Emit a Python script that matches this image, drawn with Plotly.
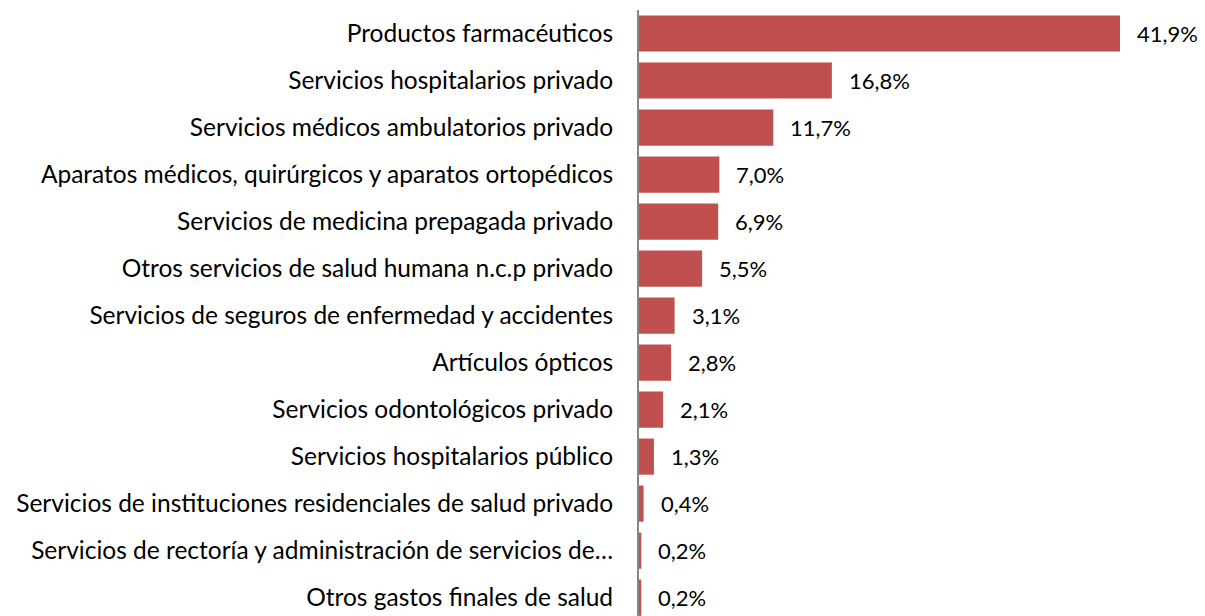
import plotly.graph_objects as go

categories = [
    "Productos farmacéuticos",
    "Servicios hospitalarios privado",
    "Servicios médicos ambulatorios privado",
    "Aparatos médicos, quirúrgicos y aparatos ortopédicos",
    "Servicios de medicina prepagada privado",
    "Otros servicios de salud humana n.c.p privado",
    "Servicios de seguros de enfermedad y accidentes",
    "Artículos ópticos",
    "Servicios odontológicos privado",
    "Servicios hospitalarios público",
    "Servicios de instituciones residenciales de salud privado",
    "Servicios de rectoría y administración de servicios de…",
    "Otros gastos finales de salud",
]
values = [41.9, 16.8, 11.7, 7.0, 6.9, 5.5, 3.1, 2.8, 2.1, 1.3, 0.4, 0.2, 0.2]
labels = [f"{v:.1f}%".replace(".", ",") for v in values]

idx = list(range(len(categories)))
FONT = "Lato"

fig = go.Figure()
fig.add_trace(go.Bar(
    y=idx, x=values, orientation="h",
    marker=dict(color="#C0504D", line=dict(width=0)),
    width=0.77,
))
for i, v, t in zip(idx, values, labels):
    fig.add_annotation(x=v, y=i, text=t, showarrow=False, xanchor="left",
                       xshift=15, font=dict(size=22, color="#000000", family=FONT))

fig.update_layout(
    width=1205, height=616,
    margin=dict(l=631, r=0, t=2, b=0, autoexpand=False),
    plot_bgcolor="white", paper_bgcolor="white",
    showlegend=False,
    font=dict(family=FONT, size=22, color="#000000"),
    xaxis=dict(range=[0, 50.0], showgrid=False, zeroline=False, showticklabels=False,
               showline=False, ticks=""),
    yaxis=dict(range=[12.56, -0.5], tickmode="array", tickvals=idx, ticktext=categories,
               showgrid=False, zeroline=False, showline=True, linecolor="#868686",
               linewidth=2, ticks="", ticklabelstandoff=19,
               tickfont=dict(size=24.5, family=FONT, color="#000000")),
)
fig.write_html("out.html")
